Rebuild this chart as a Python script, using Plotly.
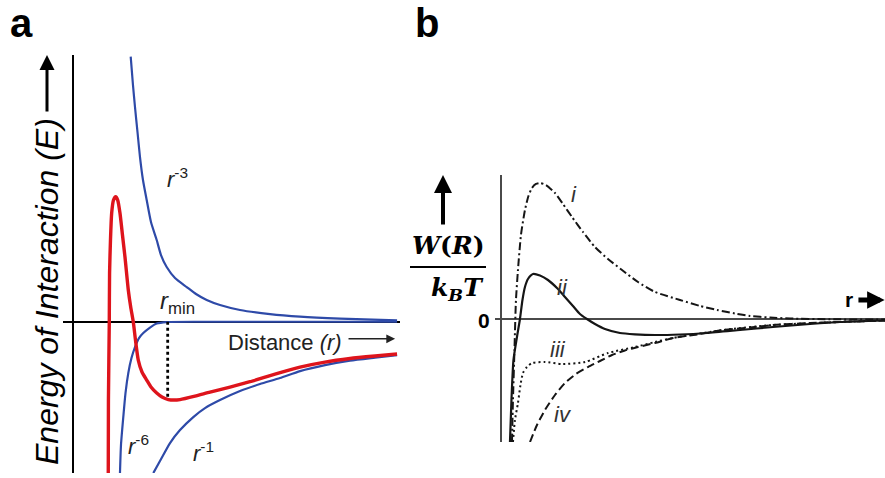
import plotly.graph_objects as go

# ---------------- Panel a data (schematic energy curves) ----------------
red_x = [1.095, 1.10, 1.126, 1.135, 1.163, 1.20, 1.255, 1.323, 1.385, 1.455, 1.532, 1.609,
         1.711, 1.785, 1.865, 1.932, 2.018, 2.132, 2.277, 2.409, 2.585, 2.748, 2.942, 3.117,
         3.302, 3.763, 4.225, 4.84, 5.455, 6.225, 6.994, 7.763, 8.532, 9.302, 9.98]
red_y = [-5.673, -2.936, -0.011, 1.826, 3.063, 4.076, 4.563, 4.687, 4.563, 4.076, 3.251, 2.426,
         1.189, 0.551, -0.011, -0.686, -1.436, -1.886, -2.186, -2.449, -2.674, -2.823, -2.917, -2.936,
         -2.917, -2.786, -2.636, -2.449, -2.249, -1.961, -1.699, -1.511, -1.38, -1.286, -1.211]

r3_x = [1.785, 1.855, 1.917, 1.994, 2.071, 2.163, 2.277, 2.409, 2.585, 2.717, 2.892, 3.148,
        3.508, 3.794, 4.123, 4.532, 5.148, 6.071, 6.994, 8.225, 9.98]
r3_y = [9.936, 8.875, 8.05, 7.113, 6.175, 5.313, 4.563, 3.738, 3.063, 2.501, 2.051, 1.639,
        1.301, 1.039, 0.814, 0.626, 0.439, 0.289, 0.195, 0.12, 0.052]

r6_x = [1.455, 1.486, 1.557, 1.625, 1.711, 1.809, 1.917, 2.04, 2.172, 2.378, 2.585, 2.892,
        3.917, 5.455, 9.98]
r6_y = [-5.673, -4.623, -3.573, -2.673, -1.924, -1.361, -0.949, -0.611, -0.424, -0.217, -0.067,
        -0.011, 0.0, 0.0, 0.0]

r1_x = [2.48, 2.686, 2.994, 3.302, 3.711, 4.071, 4.532, 5.148, 5.763, 6.378, 6.994, 7.763,
        8.532, 9.302, 9.98]
r1_y = [-5.673, -5.223, -4.548, -4.061, -3.573, -3.236, -2.936, -2.598, -2.336, -2.111, -1.849,
        -1.624, -1.455, -1.343, -1.249]

rmin_x = [2.923, 2.923]
rmin_y = [0.0, -2.9]

# ---------------- Panel b data (W(R)/kBT curves) ----------------
i_x = [0.294, 0.32, 0.359, 0.398, 0.45, 0.528, 0.632, 0.723, 0.814, 0.919, 1.023, 1.179, 1.413,
       1.621, 1.856, 2.142, 2.454, 2.792, 3.157, 3.573, 4.016, 4.666, 5.187, 5.629, 6.098, 6.488,
       7.008, 7.529, 8.57, 10.0]
i_y = [-4.271, -2.813, -1.076, 0.66, 1.701, 2.917, 3.785, 4.271, 4.549, 4.688, 4.722, 4.653, 4.375,
       3.993, 3.542, 3.021, 2.5, 2.083, 1.701, 1.285, 0.938, 0.66, 0.451, 0.313, 0.191, 0.104,
       0.052, 0.017, -0.01, -0.017]

ii_x = [0.242, 0.281, 0.333, 0.424, 0.502, 0.567, 0.632, 0.71, 0.841, 1.023, 1.231, 1.465, 1.673,
        1.881, 2.063, 2.245, 2.454, 2.714, 3.104, 3.495, 4.016, 4.666, 5.369, 6.228, 7.086, 8.049,
        8.83, 10.0]
ii_y = [-4.271, -2.813, -1.424, -0.625, 0.0, 0.66, 1.111, 1.389, 1.563, 1.51, 1.354, 1.076, 0.764,
        0.451, 0.174, 0.0, -0.174, -0.347, -0.486, -0.531, -0.556, -0.538, -0.486, -0.382, -0.278,
        -0.174, -0.104, -0.052]

iii_x = [0.32, 0.372, 0.45, 0.515, 0.58, 0.684, 0.814, 1.153, 1.595, 2.194, 2.792, 3.495, 4.016,
         4.484, 5.785, 7.086, 8.83, 10.0]
iii_y = [-4.271, -3.507, -2.917, -2.292, -1.875, -1.667, -1.528, -1.493, -1.563, -1.493, -1.181,
         -0.972, -0.799, -0.66, -0.382, -0.208, -0.104, -0.052]

iv_x = [0.763, 0.945, 1.153, 1.413, 1.673, 1.959, 2.272, 2.584, 2.896, 3.234, 3.573, 4.016, 4.484,
        5.187, 5.785, 6.488, 7.086, 8.049, 8.83, 10.0]
iv_y = [-4.271, -3.681, -3.16, -2.639, -2.222, -1.91, -1.667, -1.458, -1.25, -1.094, -0.972, -0.833,
        -0.66, -0.521, -0.382, -0.295, -0.208, -0.139, -0.104, -0.052]

# ---------------- Layout geometry ----------------
W, H = 885, 478
A_px = (62.6, 400.0, 55.0, 473.0)   # left, right, top, bottom (pixels)
B_px = (494.9, 885.0, 175.0, 442.0)
A_xr, A_yr = [-0.31, 10.07], [-5.67, 10.0]
B_xr, B_yr = [-0.15, 10.0], [-4.271, 5.0]

def dom(px):
    l, r, t, b = px
    return [l / W, r / W], [1 - b / H, 1 - t / H]

ax_dx, ax_dy = dom(A_px)
bx_dx, bx_dy = dom(B_px)

BLUE = "rgb(46,74,168)"
RED = "rgb(222,20,28)"
INK = "#151515"
SANS = "Liberation Sans, Arial, sans-serif"
SERIF = "DejaVu Serif, serif"

fig = go.Figure()

def add(x, y, color, width, dash="solid", ax="a"):
    xa, ya = ("x", "y") if ax == "a" else ("x2", "y2")
    fig.add_trace(go.Scatter(x=x, y=y, mode="lines", xaxis=xa, yaxis=ya,
                             line=dict(color=color, width=width, dash=dash, shape="spline", smoothing=0.6),
                             hoverinfo="skip", showlegend=False))

add(r6_x, r6_y, BLUE, 2.2)
add(r1_x, r1_y, BLUE, 2.2)
add(r3_x, r3_y, BLUE, 2.2)
add(red_x, red_y, RED, 3.4)
fig.add_trace(go.Scatter(x=rmin_x, y=rmin_y, mode="lines", xaxis="x", yaxis="y",
                         line=dict(color="black", width=2.8, dash="3px,3px"),
                         hoverinfo="skip", showlegend=False))

add(i_x, i_y, INK, 2, "8px,3px,2px,3px", "b")
add(ii_x, ii_y, INK, 2.2, "solid", "b")
add(iii_x, iii_y, INK, 2, "2px,3px", "b")
add(iv_x, iv_y, INK, 2, "8px,4px", "b")

hid = dict(showgrid=False, showticklabels=False, ticks="", showline=False)
fig.update_layout(
    width=W, height=H, margin=dict(l=0, r=0, t=0, b=0),
    paper_bgcolor="white", plot_bgcolor="rgba(0,0,0,0)",
    xaxis=dict(domain=ax_dx, range=A_xr, zeroline=True, zerolinecolor="black", zerolinewidth=2, **hid),
    yaxis=dict(domain=ax_dy, range=A_yr, zeroline=True, zerolinecolor="black", zerolinewidth=2, **hid),
    xaxis2=dict(domain=bx_dx, range=B_xr, anchor="y2", zeroline=True, zerolinecolor="#4a4a4a", zerolinewidth=1.5, **hid),
    yaxis2=dict(domain=bx_dy, range=B_yr, anchor="x2", zeroline=True, zerolinecolor="#4a4a4a", zerolinewidth=1.5, **hid),
)

ann = []
def txt(x, y, s, size, ref="a", font=SANS, color="black", **kw):
    xr, yr = ("x", "y") if ref == "a" else ("x2", "y2") if ref == "b" else ("paper", "paper")
    d = dict(x=x, y=y, xref=xr, yref=yr, text=s, showarrow=False,
             xanchor="center", yanchor="middle",
             font=dict(family=font, size=size, color=color))
    d.update(kw)
    ann.append(d)

# panel letters
txt(21 / W, 1.0, "<b>a</b>", 40, ref="p", yanchor="top", borderpad=0)
txt(427 / W, 1.0, "<b>b</b>", 40, ref="p", yanchor="top", borderpad=0)

# panel a labels
txt(3.24, 5.39, "<i>r</i><sup>-3</sup>", 22, color="#222")
txt(3.21, 0.72, "<i>r</i><sub>min</sub>", 24, color="#222")
txt(2.04, -4.63, "<i>r</i><sup>-6</sup>", 22, color="#222")
txt(4.02, -4.89, "<i>r</i><sup>-1</sup>", 22, color="#222")
txt(4.72, -0.76, "Distance <i>(r)</i>", 22, xanchor="left", color="#222")
ann.append(dict(x=9.92, y=-0.64, xref="x", yref="y", ax=8.44, ay=-0.64, axref="x", ayref="y",
                text="", showarrow=True, arrowhead=2, arrowwidth=1.6, arrowsize=1.1, arrowcolor="#222"))
# y label panel a
txt(47 / W, 1 - 292 / H, "<i>Energy of Interaction (E)</i>", 32, ref="p", textangle=-90)
ann.append(dict(x=47 / W, y=1 - 55 / H, xref="paper", yref="paper", ax=0, ay=58,
                text="", showarrow=True, arrowhead=2, arrowwidth=3, arrowsize=1, arrowcolor="black"))

# panel b labels
txt(1.907, 4.31, "<i>i</i>", 22, ref="b", color="#333")
txt(1.6, 1.11, "<i>ii</i>", 22, ref="b", color="#333")
txt(1.49, -1.07, "<i>iii</i>", 22, ref="b", color="#333")
txt(1.62, -3.3, "<i>iv</i>", 22, ref="b", color="#333")
txt(484 / W, 1 - 320 / H, "<b>0</b>", 21, ref="p")
txt(9.06, 0.69, "<b>r</b>", 21, ref="b")
ann.append(dict(x=9.99, y=0.66, xref="x2", yref="y2", ax=9.27, ay=0.66, axref="x2", ayref="y2",
                text="", showarrow=True, arrowhead=2, arrowwidth=5, arrowsize=0.7, arrowcolor="black"))
# y label panel b
ann.append(dict(x=443 / W, y=1 - 175 / H, xref="paper", yref="paper", ax=0, ay=51,
                text="", showarrow=True, arrowhead=2, arrowwidth=4, arrowsize=0.9, arrowcolor="black"))
txt(448 / W, 1 - 246 / H, "<b><i>W</i>(<i>R</i>)</b>", 25, ref="p", font=SERIF)
txt(457 / W, 1 - 289 / H, "<b><i>k<sub>B</sub>T</i></b>", 25, ref="p", font=SERIF)
fig.update_layout(annotations=ann)
fig.add_shape(type="line", xref="paper", yref="paper", x0=410 / W, x1=486 / W,
              y0=1 - 267 / H, y1=1 - 267 / H, line=dict(color="black", width=2))

fig.write_html("out.html")
